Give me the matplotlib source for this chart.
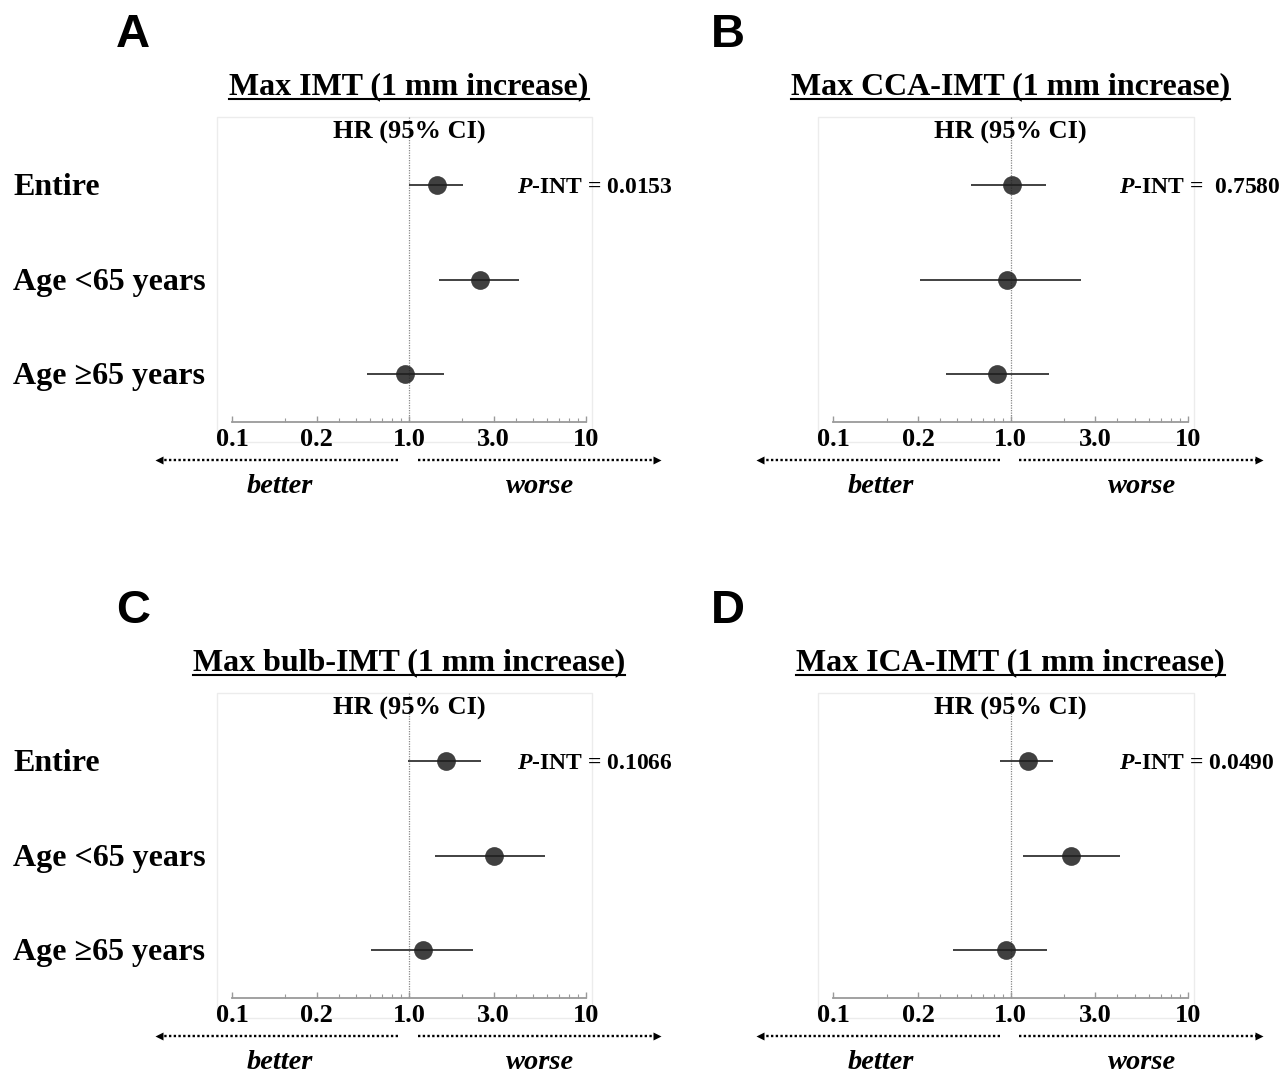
import matplotlib
matplotlib.use("Agg")
import matplotlib.pyplot as plt
from matplotlib.patches import Rectangle
from matplotlib.lines import Line2D
from matplotlib.ticker import FixedLocator, NullFormatter
from matplotlib.transforms import blended_transform_factory

plt.rcParams['font.family'] = ['Liberation Serif', 'DejaVu Serif']
plt.rcParams['font.weight'] = 'bold'
plt.rcParams['mathtext.fontset'] = 'custom'
plt.rcParams['mathtext.it'] = 'Liberation Serif:italic:bold'
plt.rcParams['mathtext.rm'] = 'Liberation Serif:bold'

# ---------------- data ----------------
groups = ['Entire', 'Age <65 years', 'Age \u226565 years']
panel_letters = ['A', 'B', 'C', 'D']
titles = ['Max IMT (1 mm increase)', 'Max CCA-IMT (1 mm increase)',
          'Max bulb-IMT (1 mm increase)', 'Max ICA-IMT (1 mm increase)']
p_int = ['0.0153', ' 0.7580', '0.1066', '0.0490']

hr_A = [1.43, 2.51, 0.95]
lo_A = [1.00, 1.47, 0.575]
hi_A = [2.02, 4.17, 1.57]

hr_B = [1.02, 0.955, 0.84]
lo_B = [0.60, 0.307, 0.43]
hi_B = [1.59, 2.50, 1.65]

hr_C = [1.62, 3.00, 1.20]
lo_C = [0.99, 1.40, 0.61]
hi_C = [2.54, 5.86, 2.30]

hr_D = [1.25, 2.18, 0.94]
lo_D = [0.87, 1.18, 0.47]
hi_D = [1.73, 4.13, 1.60]

tick_pos = [0.1, 0.3, 1.0, 3.0, 10.0]
tick_labels = ['0.1', '0.2', '1.0', '3.0', '10']
minor_pos = [0.2, 0.4, 0.5, 0.6, 0.7, 0.8, 0.9, 2, 4, 5, 6, 7, 8, 9]

hrs = [hr_A, hr_B, hr_C, hr_D]
los = [lo_A, lo_B, lo_C, lo_D]
his = [hi_A, hi_B, hi_C, hi_D]

# ---------------- layout ----------------
W, H = 1283, 1075
fig = plt.figure(figsize=(W / 100, H / 100), dpi=100)

# axes boxes in pixels (left, top, right, bottom)
boxes = [(216.7, 117, 592, 442), (818, 117, 1194, 442),
         (216.7, 693, 592, 1018), (818, 693, 1194, 1018)]
letter_xy = [(133, 35), (728, 35), (133, 611), (728, 611)]

y_rows = [0, 1, 2]
y_top, y_bot = -0.72, 2.72
y_axis = 2.508
xlim = (0.0819, 10.8)
txt_dy = 0.03

for i in range(4):
    l, t, r, b = boxes[i]
    ax = fig.add_axes([l / W, 1 - b / H, (r - l) / W, (b - t) / H])
    ax.set_xscale('log')
    ax.set_xlim(*xlim)
    ax.set_ylim(y_bot, y_top)
    for s in ['top', 'left', 'right']:
        ax.spines[s].set_visible(False)
    ax.add_patch(Rectangle((0, 0), 1, 1, transform=ax.transAxes, fill=False,
                           edgecolor='#ececec', lw=1.0, clip_on=False, zorder=0))
    sp = ax.spines['bottom']
    sp.set_position(('data', y_axis))
    sp.set_bounds(0.1, 10)
    sp.set_color('#9a9a9a')
    sp.set_linewidth(1.3)
    ax.set_yticks([])
    ax.xaxis.set_major_locator(FixedLocator(tick_pos))
    ax.set_xticklabels(tick_labels)
    ax.xaxis.set_minor_locator(FixedLocator(minor_pos))
    ax.xaxis.set_minor_formatter(NullFormatter())
    ax.tick_params(axis='x', which='major', direction='in', length=4, width=1,
                   color='#9a9a9a', pad=4, labelsize=19)
    ax.tick_params(axis='x', which='minor', direction='in', length=3, width=0.8,
                   color='#9a9a9a')
    for lab in ax.get_xticklabels():
        lab.set_fontweight('bold')

    # reference line at HR = 1
    ax.vlines(1.0, y_top, y_axis, colors='#888888', linestyles=(0, (1, 1)),
              lw=0.9, zorder=1)

    # CIs and points
    ax.hlines(y_rows, los[i], his[i], colors='#333333', lw=1.3, zorder=2)
    ax.plot(hrs[i], y_rows, 'o', color='#1e1e1e', alpha=0.85, ms=13.5,
            mec='none', zorder=3)

    bt = blended_transform_factory(ax.transData, ax.transAxes)
    # HR header
    ax.text(1.0, 0.951, 'HR (95% CI)', transform=bt, ha='center', va='center',
            fontsize=19, fontweight='bold')
    # title
    ttl = ax.text(1.0, 1.0923, titles[i], transform=bt, ha='center',
                  va='center', fontsize=23, fontweight='bold', clip_on=False)
    # P-INT
    ax.text(4.07, y_rows[0] + txt_dy, r'$\mathit{P}$-INT = ' + p_int[i],
            ha='left', va='center', fontsize=17, fontweight='bold',
            clip_on=False)

    # better / worse arrows
    ya = -0.0554
    ax.plot([0.87, 0.0405], [ya, ya], transform=bt, color='black', lw=1.7,
            linestyle=(0, (1, 1)), clip_on=False)
    ax.plot([1.12, 24.0], [ya, ya], transform=bt, color='black', lw=1.7,
            linestyle=(0, (1, 1)), clip_on=False)
    ax.plot([25.0], [ya], marker='>', ms=6, color='black', transform=bt,
            clip_on=False, mec='none')
    ax.plot([0.0388], [ya], marker='<', ms=6, color='black', transform=bt,
            clip_on=False, mec='none')
    ax.text(0.185, -0.157, 'better', transform=bt, ha='center', va='baseline',
            fontsize=20.5, fontstyle='italic', fontweight='bold', clip_on=False)
    ax.text(5.5, -0.157, 'worse', transform=bt, ha='center', va='baseline',
            fontsize=20.5, fontstyle='italic', fontweight='bold', clip_on=False)

    # row labels (left column only)
    if i in (0, 2):
        rt = blended_transform_factory(fig.transFigure, ax.transData)
        for g, yv in zip(groups, y_rows):
            ax.text(13 / W, yv + txt_dy, g, transform=rt, ha='left',
                    va='center', fontsize=23, fontweight='bold',
                    clip_on=False)

    # panel letter
    lx, ly = letter_xy[i]
    fig.text(lx / W, 1 - ly / H, panel_letters[i], ha='center', va='center',
             fontsize=34, fontweight='bold', family='Liberation Sans')

    ax._title_artist = ttl
    ax._box = boxes[i]

# underline titles
fig.canvas.draw()
renderer = fig.canvas.get_renderer()
for ax in fig.axes:
    bb = ax._title_artist.get_window_extent(renderer)
    l, t, r, b = ax._box
    yu = H - (t - 18)
    fig.add_artist(Line2D([bb.x0, bb.x1], [yu, yu], transform=None,
                          color='black', lw=1.5))

fig.savefig('out.png', dpi=100)
